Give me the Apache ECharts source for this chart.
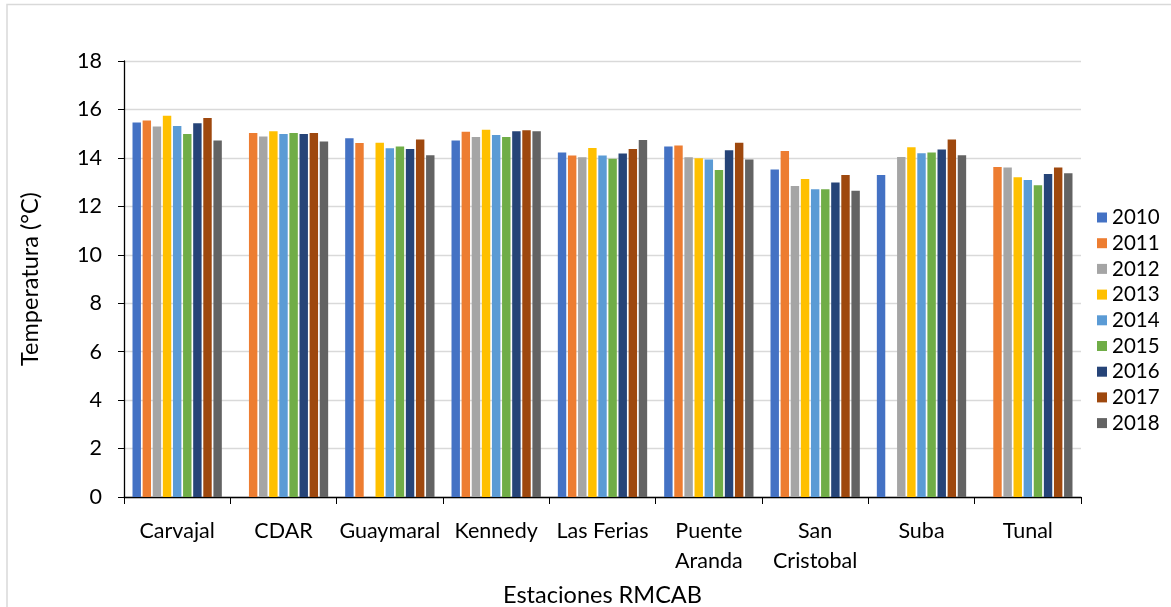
<!DOCTYPE html>
<html>
<head>
<meta charset="utf-8">
<script src="https://cdn.jsdelivr.net/npm/echarts@6/dist/echarts.min.js"></script>
<style>
  html, body { margin: 0; padding: 0; background: #fff; }
  #chart { width: 1171px; height: 607px; }
</style>
</head>
<body>
<div id="chart"></div>
<script>
// Stations of the RMCAB network (x axis categories)
const stations = ['Carvajal', 'CDAR', 'Guaymaral', 'Kennedy', 'Las Ferias', 'Puente\nAranda', 'San\nCristobal', 'Suba', 'Tunal'];

// Mean annual temperature (°C) per station, one array per year; null = no data
const y2010 = [15.46, null, 14.81, 14.72, 14.22, 14.47, 13.52, 13.29, null];
const y2011 = [15.54, 15.03, 14.61, 15.08, 14.10, 14.51, 14.28, null, 13.62];
const y2012 = [15.30, 14.88, null, 14.86, 14.03, 14.03, 12.84, 14.04, 13.60];
const y2013 = [15.74, 15.10, 14.62, 15.16, 14.41, 13.98, 13.13, 14.44, 13.20];
const y2014 = [15.32, 14.99, 14.40, 14.94, 14.10, 13.93, 12.71, 14.19, 13.09];
const y2015 = [14.99, 15.03, 14.47, 14.86, 13.96, 13.50, 12.71, 14.22, 12.87];
const y2016 = [15.43, 14.99, 14.37, 15.10, 14.18, 14.32, 12.98, 14.35, 13.33];
const y2017 = [15.65, 15.03, 14.76, 15.14, 14.37, 14.62, 13.29, 14.76, 13.60];
const y2018 = [14.72, 14.68, 14.11, 15.10, 14.74, 13.93, 12.64, 14.11, 13.37];

const years = ['2010', '2011', '2012', '2013', '2014', '2015', '2016', '2017', '2018'];
const yearValues = [y2010, y2011, y2012, y2013, y2014, y2015, y2016, y2017, y2018];
const yearColors = ['#4472C4', '#ED7D31', '#A5A5A5', '#FFC000', '#5B9BD5', '#70AD47', '#264478', '#9E480E', '#636363'];

// y axis ticks
const yMin = 0, yMax = 18, yStep = 2;

const font = 'Lato, "Open Sans", sans-serif';

const chart = echarts.init(document.getElementById('chart'), null, { renderer: 'canvas' });

const series = years.map((yr, i) => ({
  name: yr,
  type: 'bar',
  data: yearValues[i],
  itemStyle: { color: yearColors[i] },
  barGap: '20%',
  barCategoryGap: '16%',
  animation: false
}));

chart.setOption({
  animation: false,
  backgroundColor: '#ffffff',
  textStyle: { fontFamily: font, color: '#000' },
  graphic: [{
    type: 'rect',
    shape: { x: 7, y: 4.5, width: 1200, height: 700 },
    style: { fill: 'none', stroke: '#d9d9d9', lineWidth: 1.5 },
    silent: true,
    z: -1
  }],
  grid: { left: 124, right: 90, top: 61, bottom: 110, containLabel: false, outerBoundsMode: 'none' },
  legend: {
    orient: 'vertical',
    left: 1092,
    top: 202,
    itemWidth: 10,
    itemHeight: 10,
    itemGap: 4.7,
    icon: 'rect',
    data: years,
    textStyle: { fontFamily: font, fontSize: 20.5, color: '#000', padding: [0, 0, 0, 0] }
  },
  xAxis: {
    type: 'category',
    data: stations,
    name: 'Estaciones RMCAB',
    nameLocation: 'middle',
    nameGap: 86,
    nameTextStyle: { fontFamily: font, fontSize: 23.5, color: '#000' },
    axisLine: { lineStyle: { color: '#000', width: 1.3 } },
    axisTick: { show: true, length: 7, lineStyle: { color: '#000', width: 1 } },
    axisLabel: { interval: 0, margin: 19, fontFamily: font, fontSize: 21.5, lineHeight: 30, color: '#000' },
    splitLine: { show: false }
  },
  yAxis: {
    type: 'value',
    min: yMin,
    max: yMax,
    interval: yStep,
    name: 'Temperatura (°C)',
    nameLocation: 'middle',
    nameGap: 82,
    nameRotate: 90,
    nameTextStyle: { fontFamily: font, fontSize: 23.5, color: '#000' },
    axisLine: { show: true, lineStyle: { color: '#000', width: 1.3 } },
    axisTick: { show: true, inside: false, length: 6, lineStyle: { color: '#000' } },
    axisLabel: { margin: 22, fontFamily: font, fontSize: 21.5, color: '#000' },
    splitLine: { show: true, lineStyle: { color: '#d9d9d9', width: 1.3 } }
  },
  series: series
});
</script>
</body>
</html>
